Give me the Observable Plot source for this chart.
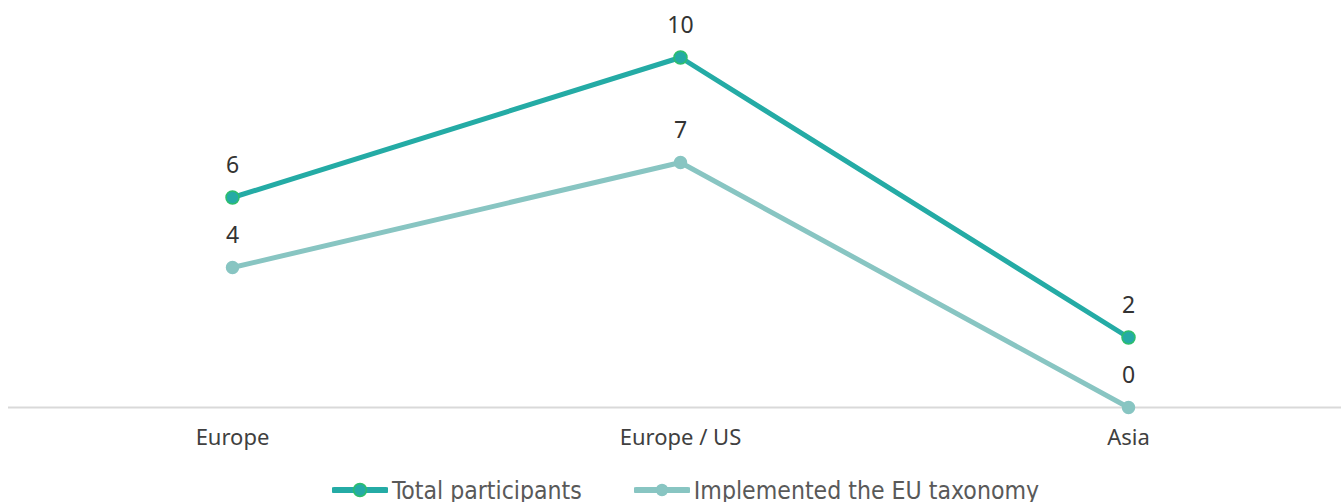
<!DOCTYPE html>
<html>
<head>
<meta charset="utf-8">
<script src="https://cdn.jsdelivr.net/npm/d3@7"></script>
<script src="https://cdn.jsdelivr.net/npm/@observablehq/plot@0.6"></script>
<style>
  html, body { margin: 0; padding: 0; background: #fff; }
  #legend { display: flex; justify-content: center; align-items: center; height: 32px; padding-top: 4px; gap: 52px; font-family: "DejaVu Sans", sans-serif; font-stretch: condensed; font-size: 24.6px; color: #595959; margin-left: 30px; }
  #legend .item { display: flex; align-items: center; gap: 4px; }
</style>
</head>
<body>
<div id="chart"></div>
<div id="legend"></div>
<script>
const regions = ["Europe", "Europe / US", "Asia"];
const totalParticipants = [6, 10, 2];
const implementedTaxonomy = [4, 7, 0];
const seriesNames = ["Total participants", "Implemented the EU taxonomy"];
const lineColors = ["#24ABA5", "#88C5C2"];
const dotStrokes = ["#2DBE6C", "#88C5C2"];

const data = [];
regions.forEach((r, i) => data.push({region: r, value: totalParticipants[i], series: seriesNames[0]}));
regions.forEach((r, i) => data.push({region: r, value: implementedTaxonomy[i], series: seriesNames[1]}));

const total = data.filter(d => d.series === seriesNames[0]);
const impl = data.filter(d => d.series === seriesNames[1]);

const chart = Plot.plot({
  width: 1341,
  height: 470,
  marginTop: 57,
  marginBottom: 63,
  marginLeft: 8,
  marginRight: 0,
  style: {fontFamily: "'Noto Sans', sans-serif", background: "#fff"},
  x: {type: "point", domain: regions, range: [232, 1128], padding: 0, label: null},
  y: {domain: [0, 10], axis: null},
  marks: [
    Plot.ruleY([0], {stroke: "#D9D9D9", strokeWidth: 2}),
    Plot.axisX({tickSize: 0, tickPadding: 22, fontSize: 22, fill: "#404040", label: null, style: {letterSpacing: "1.6px"}}),
    Plot.line(impl, {x: "region", y: "value", stroke: lineColors[1], strokeWidth: 5}),
    Plot.dot(impl, {x: "region", y: "value", r: 6, fill: lineColors[1], stroke: dotStrokes[1]}),
    Plot.line(total, {x: "region", y: "value", stroke: lineColors[0], strokeWidth: 5}),
    Plot.dot(total, {x: "region", y: "value", r: 6.5, fill: lineColors[0], stroke: dotStrokes[0], strokeWidth: 1.5}),
    Plot.text(data, {x: "region", y: "value", text: d => String(d.value), dy: -32, fontSize: 23, fill: "#333333", lineAnchor: "middle"})
  ]
});
document.getElementById("chart").appendChild(chart);

const legend = document.getElementById("legend");
seriesNames.forEach((name, i) => {
  const item = document.createElement("span");
  item.className = "item";
  item.innerHTML = `<svg width="56" height="16"><line x1="2" x2="54" y1="8" y2="8" stroke="${lineColors[i]}" stroke-width="6" stroke-linecap="round"/><circle cx="28" cy="8" r="${i === 0 ? 6.5 : 5.5}" fill="${lineColors[i]}" stroke="${dotStrokes[i]}" stroke-width="1.5"/></svg><span>${name}</span>`;
  legend.appendChild(item);
});
</script>
</body>
</html>
